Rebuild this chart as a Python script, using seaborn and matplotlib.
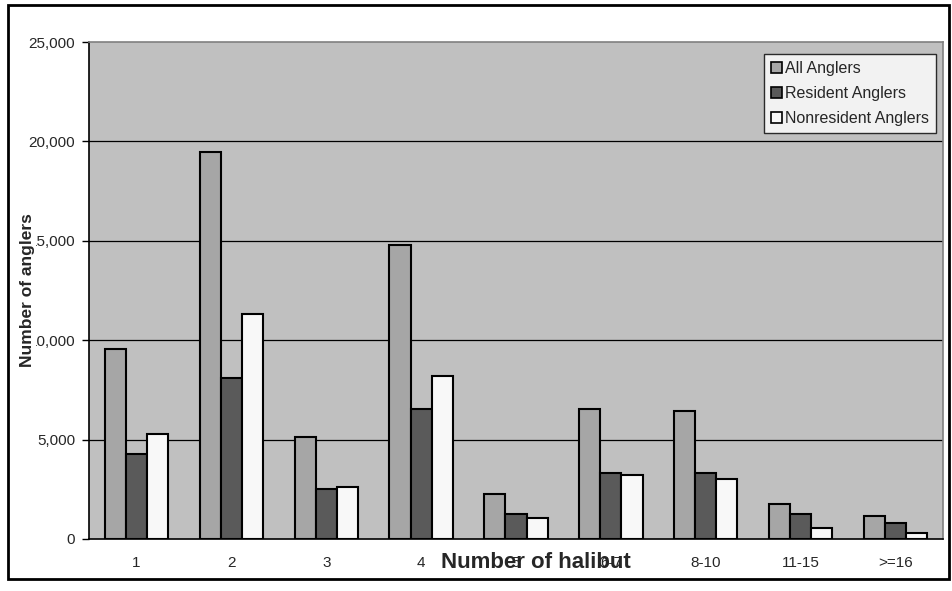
import numpy as np
import pandas as pd
import matplotlib
matplotlib.use("Agg")
import matplotlib.pyplot as plt
from matplotlib.patches import Patch, Rectangle
import seaborn as sns

# ---------------- Data ----------------
categories = ["1", "2", "3", "4", "5", "6-7", "8-10", "11-15", ">=16"]
all_anglers = [9570, 19480, 5110, 14800, 2280, 6530, 6430, 1760, 1140]
resident_anglers = [4260, 8110, 2500, 6550, 1240, 3340, 3340, 1240, 820]
nonresident_anglers = [5300, 11330, 2600, 8210, 1040, 3200, 3020, 540, 320]
series_names = ["All Anglers", "Resident Anglers", "Nonresident Anglers"]
series_colors = ["#a6a6a6", "#5a5a5a", "#f8f8f8"]

df = pd.DataFrame({
    "halibut": categories * 3,
    "anglers": all_anglers + resident_anglers + nonresident_anglers,
    "group": np.repeat(series_names, len(categories)),
})

# ---------------- Plot ----------------
sns.set_style("white")
plt.rcParams["font.family"] = ["Liberation Sans", "DejaVu Sans"]

fig = plt.figure(figsize=(9.53, 5.91), dpi=100)
ax = fig.add_axes([89 / 953, 1 - 539 / 591, (943 - 89) / 953, (539 - 42) / 591])
ax.set_facecolor("#c0c0c0")

sns.barplot(data=df, x="halibut", y="anglers", hue="group", order=categories,
            hue_order=series_names, palette=series_colors, width=0.667,
            edgecolor="black", linewidth=1.5, saturation=1, legend=False, ax=ax)

ax.set_xlim(-0.5, len(categories) - 0.5)
ax.set_ylim(0, 25000)
ax.set_yticks(np.arange(0, 25001, 5000))
ax.set_yticklabels([f"{v:,}" for v in range(0, 25001, 5000)], fontsize=11)
for y in range(5000, 25000, 5000):
    ax.axhline(y, color="black", lw=0.9, zorder=0.5)

# category labels centred, tick marks between categories
ax.set_xticks(range(len(categories)))
ax.set_xticklabels(categories, fontsize=11)
ax.set_xticks(np.arange(-0.5, len(categories), 1), minor=True)
ax.tick_params(axis="x", which="major", length=0, pad=12)
ax.tick_params(axis="x", which="minor", length=5, width=1, color="black", direction="out")
ax.tick_params(axis="y", length=5, width=1, color="black", direction="out", pad=5, left=True)
ax.set_xlabel("")
ax.set_ylabel("")

for side in ["top", "right"]:
    ax.spines[side].set_color("#808080")
    ax.spines[side].set_linewidth(1.2)
for side in ["left", "bottom"]:
    ax.spines[side].set_color("black")
    ax.spines[side].set_linewidth(1.2)

handles = [Patch(facecolor=c, edgecolor="black", linewidth=1.2) for c in series_colors]
leg = ax.legend(handles, series_names, loc="upper right", bbox_to_anchor=(0.9915, 0.976),
                fontsize=11.5, frameon=True, fancybox=False, handlelength=0.7,
                handleheight=0.7, handletextpad=0.15, labelspacing=0.62,
                borderpad=0.45, borderaxespad=0)
leg.get_frame().set_edgecolor("black")
leg.get_frame().set_linewidth(1.0)
leg.get_frame().set_facecolor("white")

# axis titles, overlapping the tick labels like the original
fig.text(28 / 953, 1 - 290 / 591, "Number of anglers", rotation=90, fontsize=12.5,
         fontweight="bold", ha="center", va="center",
         bbox=dict(facecolor="white", edgecolor="none", pad=0.3))
fig.text(536 / 953, 1 - 563 / 591, "Number of halibut", fontsize=16,
         fontweight="bold", ha="center", va="center")

# outer chart border
fig.patches.append(Rectangle((8 / 953, 1 - 579 / 591), (949 - 8) / 953, (579 - 5) / 591,
                             transform=fig.transFigure, fill=False,
                             edgecolor="black", linewidth=2))

fig.savefig("out.png", dpi=100)
